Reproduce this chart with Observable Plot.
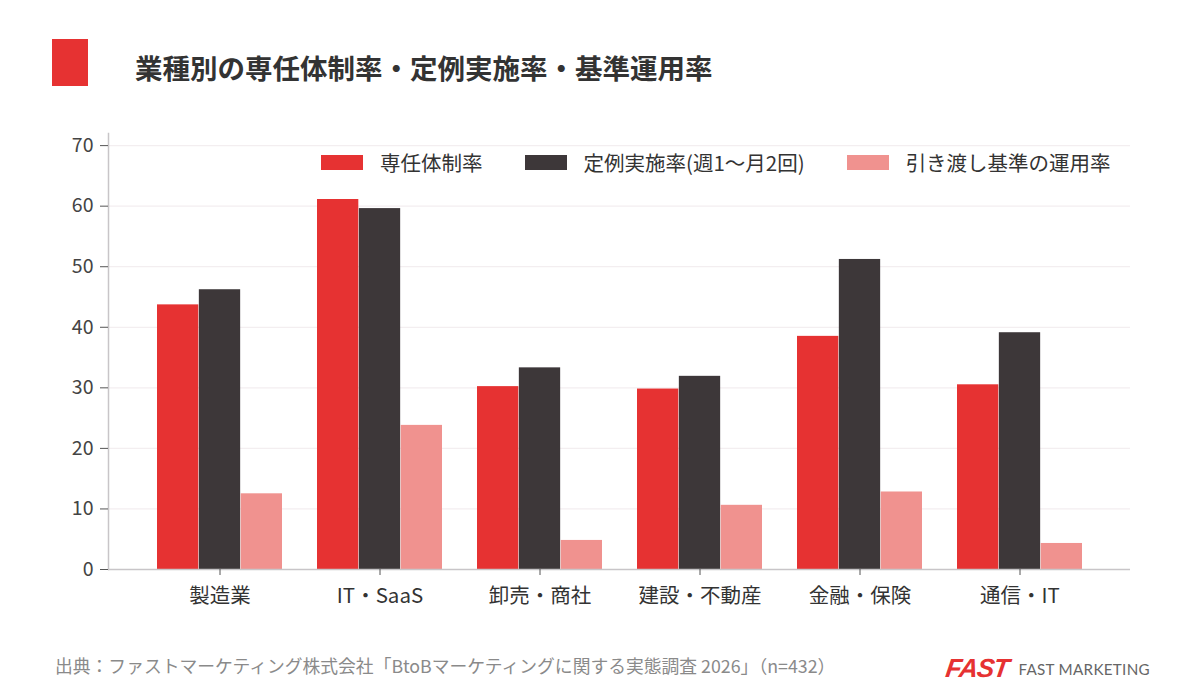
<!DOCTYPE html>
<html><head><meta charset="utf-8">
<script src="https://cdn.jsdelivr.net/npm/d3@7"></script>
<script src="https://cdn.jsdelivr.net/npm/@observablehq/plot@0.6"></script>
<style>
body{margin:0;background:#fff;font-family:"Noto Sans CJK JP","Noto Sans",sans-serif;}
#wrap{position:relative;width:1200px;height:690px;overflow:hidden;background:#fff;}
#mark{position:absolute;left:52px;top:39px;width:36px;height:47px;background:#E63232;}
#title{position:absolute;left:135px;top:48px;font-size:27.5px;font-weight:700;color:#333;line-height:38px;}
#chart{position:absolute;left:0;top:100px;}
#legend{position:absolute;left:321px;top:147px;display:flex;align-items:center;font-size:20.5px;color:#333;}
.it{display:flex;align-items:center;margin-right:42px;}
.sw{width:42px;height:15px;margin-right:17px;}
#src{position:absolute;left:55px;top:652px;font-size:17.8px;color:#8a8a8a;}
#logo{position:absolute;left:946px;top:653px;display:flex;align-items:center;}
#logo .f{font-family:"Liberation Sans",sans-serif;font-weight:900;font-style:italic;font-size:26px;color:#E63232;letter-spacing:-1px;transform:skewX(-8deg);}
#logo .n{font-family:"Lato","Noto Sans",sans-serif;font-size:15.2px;color:#666;margin-left:10px;letter-spacing:0.3px;}
</style></head>
<body><div id="wrap">
<div id="mark"></div>
<div id="title">業種別の専任体制率・定例実施率・基準運用率</div>
<div id="chart"></div>
<div id="legend"></div>
<div id="src">出典：ファストマーケティング株式会社「BtoBマーケティングに関する実態調査 2026」（n=432）</div>
<div id="logo"><span class="f">FAST</span><span class="n">FAST MARKETING</span></div>
</div>
<script>
const categories = ["製造業","IT・SaaS","卸売・商社","建設・不動産","金融・保険","通信・IT"];
const seriesNames = ["専任体制率","定例実施率(週1〜月2回)","引き渡し基準の運用率"];
const seriesColors = ["#E63232","#3D3739","#F0928F"];
const dedicated = [43.7, 61.1, 30.2, 29.8, 38.5, 30.5];
const regular   = [46.2, 59.6, 33.3, 31.9, 51.2, 39.1];
const handoff   = [12.5, 23.8, 4.8, 10.6, 12.8, 4.3];
const yTicks = [0,10,20,30,40,50,60,70];

const values = [dedicated, regular, handoff];
const W = 1200, H = 520, ML = 108, MR = 70, MT = 33, MB = 51;
const pIn = 0.22, pOut = 0.285;
const bw = d3.scaleBand().domain(categories).range([ML, W - MR]).paddingInner(pIn).paddingOuter(pOut).bandwidth();

const barMarks = values.map((vals, i) => Plot.barY(
  categories.map((c, j) => ({cat: c, v: vals[j]})),
  {x: "cat", y: "v", fill: seriesColors[i], insetLeft: i * bw / 3, insetRight: (2 - i) * bw / 3}
));

const plot = Plot.plot({
  width: W, height: H,
  marginLeft: ML, marginRight: MR, marginTop: MT, marginBottom: MB,
  style: {fontFamily: '"Noto Sans CJK JP","Noto Sans",sans-serif', background: "transparent", overflow: "visible"},
  x: {domain: categories, paddingInner: pIn, paddingOuter: pOut, label: null},
  y: {domain: [0, 72], label: null},
  marks: [
    Plot.ruleY(yTicks, {stroke: "#f3eef0", strokeWidth: 1.2}),
    ...barMarks,
    Plot.ruleY([0], {stroke: "#c8c5c8", strokeWidth: 1.5}),
    Plot.frame({anchor: "left", stroke: "#c8c5c8", strokeWidth: 1.5}),
    Plot.axisY({ticks: yTicks, tickSize: 8, tickPadding: 7, fontSize: 19.5, color: "#444", stroke: "#555", label: null}),
    Plot.axisX({tickSize: 6, tickPadding: 13, fontSize: 20.5, color: "#333", stroke: "#555", label: null})
  ]
});
document.getElementById("chart").appendChild(plot);

const lg = document.getElementById("legend");
seriesNames.forEach((n, i) => {
  const d = document.createElement("div"); d.className = "it";
  d.innerHTML = `<span class="sw" style="background:${seriesColors[i]}"></span><span>${n}</span>`;
  lg.appendChild(d);
});
</script>
</body></html>
